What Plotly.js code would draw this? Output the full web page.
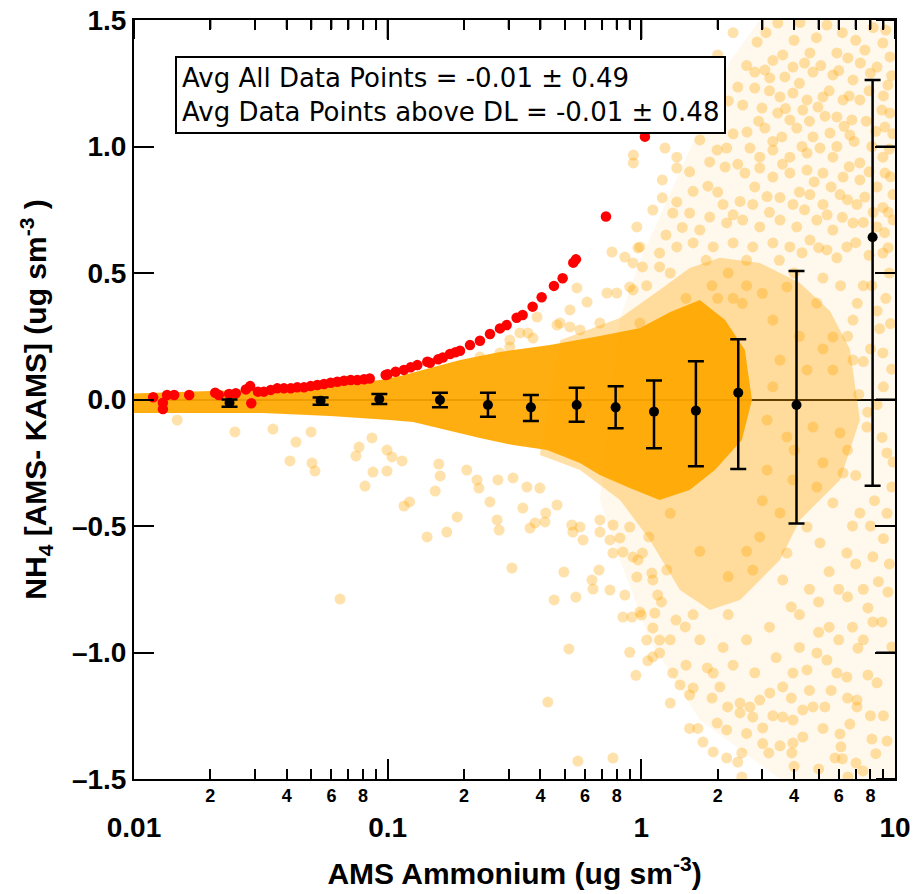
<!DOCTYPE html>
<html>
<head>
<meta charset="utf-8">
<script src="https://cdn.plot.ly/plotly-3.0.1.min.js"></script>
<style>html,body{margin:0;padding:0;background:#fff;}#wrap{position:relative;width:924px;height:894px;}#chart{width:924px;height:894px;}#frame{position:absolute;left:0;top:0;pointer-events:none;}</style>
</head>
<body>
<div id="wrap"><div id="chart"></div></div>
<script>
// ---------- data ----------
// binned averages (black points with error bars)
const binX     = [0.0238, 0.0544, 0.0927, 0.1607, 0.2485, 0.367, 0.556, 0.792, 1.122, 1.641, 2.41, 4.09, 8.16];
const binY     = [-0.013, -0.005, 0.002, -0.002, -0.022, -0.031, -0.022, -0.031, -0.048, -0.044, 0.027, -0.022, 0.641];
const binPlus  = [0.013, 0.013, 0.020, 0.029, 0.049, 0.049, 0.068, 0.083, 0.123, 0.195, 0.211, 0.53, 0.622];
const binMinus = [0.016, 0.016, 0.020, 0.029, 0.046, 0.054, 0.066, 0.083, 0.145, 0.22, 0.302, 0.468, 0.982];

// points below detection limit (red)
const redX = [0.0119,0.0130,0.0130,0.0135,0.0144,0.0165,0.0209,0.0216,0.0237,0.0252,0.0276,0.0287,0.0290,0.0308,0.0325,0.0346,0.0367,0.0390,0.0415,0.0440,0.0468,0.0497,0.0528,0.0561,0.0596,0.0633,0.0673,0.0715,0.0759,0.0807,0.085,0.0982,0.100,0.1075,0.1159,0.1232,0.1309,0.1433,0.1468,0.1583,0.165,0.1761,0.185,0.1928,0.2111,0.2311,0.2531,0.2771,0.2945,0.3224,0.3405,0.3728,0.4046,0.4524,0.4895,0.5391,0.5524,0.7254,1.0332];
const redY = [0.009,-0.013,-0.038,0.018,0.018,0.018,0.027,0.018,0.022,0.025,0.040,0.053,-0.015,0.031,0.031,0.038,0.044,0.044,0.044,0.048,0.048,0.053,0.057,0.061,0.066,0.070,0.074,0.077,0.077,0.080,0.083,0.097,0.100,0.110,0.117,0.127,0.136,0.149,0.145,0.159,0.166,0.180,0.187,0.193,0.215,0.232,0.259,0.281,0.294,0.323,0.334,0.367,0.404,0.449,0.479,0.541,0.554,0.723,1.039];

// envelope of the saturated core of the point cloud
const coreX = [0.009,0.0152,0.0286,0.045,0.071,0.093,0.112,0.147,0.193,0.277,0.436,0.686,0.99,1.30,1.70,2.14,2.56,2.73,2.49,1.95,1.55,1.18,0.90,0.686,0.573,0.425,0.312,0.231,0.171,0.126,0.102,0.0593,0.0322,0.0182,0.009];
const coreY = [0.022,0.030,0.038,0.045,0.061,0.077,0.093,0.125,0.156,0.188,0.215,0.251,0.283,0.346,0.393,0.314,0.196,-0.002,-0.16,-0.279,-0.358,-0.397,-0.35,-0.298,-0.251,-0.2,-0.18,-0.152,-0.121,-0.089,-0.081,-0.065,-0.053,-0.053,-0.053];

// envelope of the medium-density part of the cloud
const midX = [0.48,0.824,1.18,1.55,2.04,2.93,4.22,5.54,6.64,7.27,6.07,4.22,3.52,2.45,1.86,1.42,1.08,0.824,0.573,0.398];
const midY = [0.235,0.322,0.433,0.52,0.56,0.54,0.46,0.35,0.2,-0.08,-0.318,-0.476,-0.634,-0.792,-0.832,-0.753,-0.555,-0.397,-0.279,-0.219];

// envelope of the sparse outer part of the cloud
const outerX = [0.99,1.55,2.25,2.93,10,10,3.52,1.70,1.08,0.824,0.686,0.824];
const outerY = [0.551,0.986,1.34,1.5,1.5,-1.5,-1.5,-1.267,-0.95,-0.634,-0.397,0.322];

// individual scattered points
const dotsLow = [[0.0148,-0.081],[0.025,-0.128],[0.0353,-0.117],[0.0435,-0.168],[0.0499,-0.128],[0.0412,-0.243],[0.0503,-0.251],[0.0517,-0.283],[0.0771,-0.188],[0.075,-0.223],[0.0867,-0.152],[0.0875,-0.287],[0.0814,-0.342],[0.0994,-0.2],[0.0994,-0.283],[0.0649,-0.789],[0.104,-0.227],[0.114,-0.243],[0.116,-0.421],[0.122,-0.405],[0.143,-0.543],[0.171,-0.524],[0.159,-0.255],[0.161,-0.302],[0.154,-0.362],[0.188,-0.464],[0.253,-0.405],[0.270,-0.476],[0.275,-0.516],[0.309,-0.666],[0.341,-0.429],[0.364,-0.508],[0.381,-0.488],[0.417,-0.484],[0.42,-0.449],[0.453,-0.792],[0.495,-0.682],[0.552,-0.781],[0.537,-0.524],[0.589,-0.555],[0.639,-0.713],[0.645,-0.749],[0.681,-0.674],[0.752,-0.753],[0.861,-0.773],[0.846,-0.860],[0.918,-0.860],[0.987,-0.840],[1.13,-0.844],[0.97,-0.634],[1.10,-0.686],[1.16,-0.773],[1.37,-0.872],[1.49,-0.899],[0.229,-0.350],[0.205,-0.279],[0.225,-0.318],[0.272,-0.318],[0.312,-0.310],[0.354,-0.346],[0.398,-0.350],[0.465,-0.417],[0.532,-0.496],[0.573,-0.504],[0.687,-0.476],[0.687,-0.524],[0.773,-0.496],[0.824,-0.547],[0.90,-0.504],[0.752,-0.555],[0.773,-0.607],[0.846,-0.603],[0.927,-0.623],[1.01,-0.607],[1.07,-0.543],[1.11,-0.713],[1.26,-0.674],[0.96,-0.702]];
const dotsBottom = [[0.518,-0.986],[0.428,-1.196],[0.562,-1.429],[0.773,-1.417],[0.90,-0.999],[0.952,-1.09],[1.06,-1.033],[1.11,-1.017],[1.30,-1.2],[1.55,-1.3],[1.67,-1.3],[1.75,-1.354],[1.92,-1.393],[2.17,-1.417],[2.40,-1.433],[2.49,-1.397],[2.49,-1.492],[3.01,-1.36],[3.18,-1.397],[3.52,-1.369],[3.92,-1.397],[3.96,-1.358],[4.33,-1.334],[5.80,-1.417],[6.52,-1.492],[7.02,-1.437],[7.47,-1.468],[8.11,-1.342],[6.07,-1.322],[6.64,-1.283],[6.12,-1.373],[1.99,-1.279],[2.17,-1.306],[2.45,-1.239],[2.75,-1.255],[3.01,-1.298],[3.61,-1.255],[3.96,-1.267],[4.33,-1.227],[4.75,-1.215],[5.29,-1.215],[7.08,-1.188],[7.08,-1.215],[8.49,-1.12],[7.82,-1.089],[9.72,-0.978],[8.88,-0.879],[8.18,-0.879],[7.14,-0.983],[6.46,-1.097],[5.90,-1.081],[5.39,-1.030],[4.92,-1.002],[4.50,-1.069],[3.96,-1.081],[3.61,-1.136],[3.21,-1.160],[2.93,-1.188],[2.68,-1.215],[2.45,-1.2],[2.19,-1.215],[2.04,-1.136],[1.92,-1.081],[1.82,-1.061],[1.60,-1.140],[1.55,-1.168],[1.42,-1.128],[1.33,-1.081],[1.18,-1.002],[1.11,-0.903],[1.00,-0.852],[1.05,-0.951],[1.18,-0.951],[9.82,-0.247],[9.72,-0.346],[8.18,-0.622],[9.38,-0.761],[7.82,-0.824],[8.3,-0.4],[9.0,-0.55],[7.0,-0.65],[6.0,-0.75],[5.0,-0.8],[4.2,-0.85],[5.5,-0.9],[6.8,-0.9],[9.5,-0.65],[7.0,-0.3],[8.9,-0.15],[8.0,-0.5],[9.3,-0.45],[6.8,-0.5],[5.5,-0.68],[6.5,-0.78],[7.5,-0.75],[8.6,-0.72],[4.6,-0.75],[3.9,-0.82],[3.2,-0.9],[2.6,-0.95],[2.1,-0.98],[1.7,-0.95],[2.3,-1.05],[2.8,-1.08],[3.4,-1.02],[4.2,-0.98],[5.0,-0.92],[6.0,-0.95],[7.5,-0.95],[4.6,-1.15],[5.6,-1.15],[6.5,-1.18],[3.9,-1.18],[3.3,-1.25],[2.6,-1.32],[1.9,-1.18],[1.5,-1.05],[1.3,-0.95],[5.2,-1.30],[4.0,-1.45],[5.0,-1.46],[6.2,-1.42],[8.4,-1.40],[9.3,-1.35],[9.0,-1.25],[8.0,-1.25],[1.2,-0.8],[1.6,-0.85],[2.2,-0.85]];
const dotsHigh = [[2.00,1.362],[2.86,1.413],[3.45,1.488],[4.22,1.49],[5.39,1.480],[3.61,1.362],[3.96,1.314],[4.62,1.370],[5.90,1.370],[6.52,1.350],[7.61,1.381],[8.96,1.409],[9.55,1.354],[2.80,1.294],[3.07,1.302],[3.21,1.271],[3.68,1.275],[4.75,1.294],[5.69,1.283],[6.83,1.263],[8.49,1.314],[9.38,1.243],[2.40,1.235],[2.80,1.231],[3.52,1.196],[3.96,1.211],[4.50,1.184],[5.20,1.196],[6.24,1.184],[7.27,1.184],[8.88,1.144],[2.51,1.164],[2.99,1.152],[3.45,1.132],[3.85,1.105],[4.33,1.144],[4.97,1.156],[5.90,1.117],[6.76,1.105],[9.55,1.132],[2.61,1.057],[3.07,1.073],[3.58,1.038],[4.10,1.073],[4.75,1.038],[5.54,1.053],[6.64,1.045],[9.13,1.077],[1.70,1.026],[1.99,0.986],[2.17,0.994],[2.68,0.994],[2.93,0.958],[3.30,0.986],[3.85,0.958],[4.50,0.974],[5.06,0.994],[5.69,0.958],[7.27,0.935],[8.96,0.958],[1.24,0.994],[1.38,0.915],[1.86,0.939],[2.14,0.919],[2.56,0.895],[2.93,0.915],[3.30,0.879],[3.85,0.895],[4.50,0.907],[5.20,0.895],[6.24,0.879],[7.27,0.868],[9.13,0.895],[1.21,0.868],[1.21,0.797],[1.38,0.781],[1.60,0.823],[1.83,0.843],[2.10,0.771],[2.45,0.783],[2.75,0.771],[3.13,0.802],[3.52,0.798],[3.96,0.771],[4.62,0.810],[5.20,0.771],[6.07,0.810],[7.08,0.771],[8.96,0.759],[9.82,0.810],[0.96,0.682],[1.11,0.749],[1.33,0.737],[1.55,0.737],[1.86,0.721],[2.17,0.698],[2.51,0.709],[2.93,0.682],[3.52,0.709],[4.10,0.682],[4.92,0.709],[5.69,0.670],[6.83,0.698],[8.49,0.682],[9.82,0.709],[0.987,0.603],[1.18,0.579],[1.38,0.603],[1.60,0.619],[1.92,0.603],[2.30,0.619],[2.75,0.603],[3.30,0.619],[3.85,0.603],[4.62,0.630],[5.39,0.591],[6.46,0.603],[8.96,0.579],[0.766,0.583],[0.861,0.563],[0.927,0.540],[1.01,0.524],[1.18,0.524],[0.732,0.421],[0.80,0.421],[0.90,0.445],[0.611,0.385],[0.523,0.354],[0.478,0.302],[0.388,0.326],[0.332,0.263],[0.303,0.235],[0.357,0.263],[0.557,0.441],[0.927,0.433],[0.465,0.294],[0.523,0.287],[0.573,0.275],[0.686,0.302],[0.987,0.302],[0.374,0.243],[0.303,0.208],[0.277,0.184],[0.231,0.168],[0.97,0.599],[0.93,0.966],[0.93,0.935],[1.21,1.184],[1.11,1.077],[1.38,0.958],[2.2,0.5],[2.6,0.45],[1.9,0.45],[2.3,0.4],[2.3,1.45],[3.1,1.45],[4.0,1.42],[4.9,1.43],[6.2,1.45],[7.0,1.42],[8.2,1.47],[9.2,1.46],[2.6,1.32],[3.3,1.34],[4.4,1.33],[5.1,1.32],[6.0,1.30],[7.3,1.33],[8.0,1.29],[9.7,1.28],[2.2,1.18],[3.2,1.22],[4.2,1.25],[5.5,1.22],[6.6,1.20],[7.9,1.22],[9.0,1.20],[2.9,1.10],[3.7,1.15],[4.6,1.10],[5.3,1.12],[6.3,1.08],[7.7,1.10],[8.4,1.06],[9.8,1.05],[2.3,1.05],[3.3,1.02],[4.3,1.00],[5.9,1.00],[6.9,1.02],[8.1,1.00],[9.5,0.99],[1.55,0.90],[2.4,0.93],[3.6,0.93],[4.8,0.86],[6.6,0.92],[7.9,0.90],[8.5,0.84],[9.6,0.88],[1.45,0.68],[2.0,0.82],[2.8,0.84],[4.2,0.82],[5.6,0.84],[6.5,0.79],[7.6,0.80],[8.2,0.74],[9.4,0.74],[1.25,0.65],[1.7,0.67],[2.3,0.73],[3.2,0.74],[4.4,0.75],[5.4,0.73],[6.2,0.72],[7.5,0.70],[9.1,0.66],[1.05,0.45],[1.3,0.5],[1.8,0.55],[2.6,0.55],[3.5,0.55],[4.3,0.58],[5.0,0.60],[5.9,0.56],[7.0,0.62],[7.9,0.57],[9.4,0.60]];
const dotsMid = [[3.30,0.314],[3.75,0.445],[4.92,0.381],[5.69,0.247],[6.83,0.314],[3.52,0.156],[4.50,0.117],[5.69,0.117],[6.83,0.156],[8.96,0.184],[3.13,-0.081],[3.75,-0.148],[4.75,-0.109],[6.07,-0.132],[7.75,-0.109],[9.29,-0.211],[3.13,-0.279],[3.96,-0.318],[4.92,-0.346],[6.24,-0.291],[3.52,-0.449],[4.50,-0.504],[5.69,-0.409],[7.27,-0.449],[2.93,-0.543],[3.75,-0.607],[5.06,-0.567],[6.46,-0.607],[2.75,-0.674],[3.61,-0.713],[7.5,0.45],[8.5,0.35],[9.5,0.5],[8.0,0.2],[9.0,0.05],[7.8,-0.05],[9.6,0.3],[4.0,0.50],[5.2,0.48],[6.1,0.45],[7.1,0.38],[8.1,0.45],[9.2,0.40],[6.5,0.25],[7.5,0.15],[8.7,0.28],[9.7,0.12],[7.2,0.02],[8.5,-0.02],[1.5,0.4],[2.0,0.4],[2.5,0.38],[3.0,0.42],[1.3,-0.45],[1.7,-0.6],[2.2,-0.7],[2.6,-0.6],[3.0,-0.4],[3.3,0.05],[4.2,0.25],[5.2,0.2],[4.0,-0.2],[5.2,-0.25],[6.5,-0.2]];

// texts
const xTickVals = [0.01, 0.1, 1, 10];
const xTickText = ['0.01', '0.1', '1', '10'];
const xMinorVals = [0.02,0.03,0.04,0.05,0.06,0.07,0.08,0.09,0.2,0.3,0.4,0.5,0.6,0.7,0.8,0.9,2,3,4,5,6,7,8,9];
const xMinorLabVals = [0.02,0.04,0.06,0.08,0.2,0.4,0.6,0.8,2,4,6,8];
const xMinorLabText = ['2','4','6','8','2','4','6','8','2','4','6','8'];
const yTickVals = [-1.5,-1,-0.5,0,0.5,1,1.5];
const yTickText = ['\u20131.5','\u20131.0','\u20130.5','0.0','0.5','1.0','1.5'];
const statLines = ['Avg All Data Points = -0.01 \u00b1 0.49', 'Avg Data Points above DL = -0.01 \u00b1 0.48'];

// ---------- layout geometry ----------
const W = 924, H = 894;
const M = {l:134, r:29, t:20, b:115};
const X_RANGE = [-2, 1], Y_RANGE = [-1.5, 1.5];

// ---------- traces ----------
const DOT = 'rgba(255,165,0,0.33)';
const allDots = dotsLow.concat(dotsBottom, dotsHigh, dotsMid);

const traces = [
  {type:'scatter', mode:'lines', x:outerX, y:outerY, fill:'toself', fillcolor:'rgba(255,165,0,0.07)', line:{width:0}, hoverinfo:'skip', showlegend:false},
  {type:'scatter', mode:'lines', x:midX, y:midY, fill:'toself', fillcolor:'rgba(255,165,0,0.34)', line:{width:0}, hoverinfo:'skip', showlegend:false},
  {type:'scatter', mode:'markers', x:allDots.map(d=>d[0]), y:allDots.map(d=>d[1]), marker:{size:11, color:DOT, line:{width:0}}, hoverinfo:'skip', showlegend:false},
  {type:'scatter', mode:'lines', x:coreX, y:coreY, fill:'toself', fillcolor:'rgba(255,168,0,0.93)', line:{width:0}, hoverinfo:'skip', showlegend:false},
  {type:'scatter', mode:'markers', x:redX, y:redY, marker:{size:10.5, color:'rgb(255,0,0)'}, showlegend:false},
  {type:'scatter', mode:'markers', x:binX, y:binY,
   marker:{size:10, color:'black'},
   error_y:{type:'data', symmetric:false, array:binPlus, arrayminus:binMinus, color:'black', thickness:2.5, width:8},
   showlegend:false},
  {type:'scatter', mode:'markers', x:[0.01,10], y:[0,0], xaxis:'x2', marker:{opacity:0}, hoverinfo:'skip', showlegend:false}
];

const boldFont = (s) => ({family:'Liberation Sans, Arial, sans-serif', size:s, color:'black', weight:'bold'});

const layout = {
  width:W, height:H, margin:M,
  paper_bgcolor:'white', plot_bgcolor:'white',
  showlegend:false,
  xaxis:{
    type:'log', range:X_RANGE,
    tickmode:'array', tickvals:xTickVals, ticktext:xTickText,
    ticks:'inside', ticklen:20, tickwidth:2, tickcolor:'black',
    minor:{tickmode:'array', tickvals:xMinorVals, ticks:'inside', ticklen:10, tickwidth:2, tickcolor:'black', showgrid:false},
    showline:true, linewidth:2, linecolor:'black', mirror:'ticks',
    showgrid:false, zeroline:false,
    tickfont:boldFont(28), ticklabelstandoff:22,
    title:{text:'AMS Ammonium (ug sm<sup>-3</sup>)', font:boldFont(30), standoff:21}
  },
  xaxis2:{
    type:'log', range:X_RANGE, overlaying:'x', anchor:'y', side:'bottom',
    tickmode:'array', tickvals:xMinorLabVals, ticktext:xMinorLabText,
    ticks:'', showline:false, showgrid:false, zeroline:false,
    tickfont:boldFont(18), ticklabelstandoff:4
  },
  yaxis:{
    range:Y_RANGE,
    tickmode:'array', tickvals:yTickVals, ticktext:yTickText,
    ticks:'inside', ticklen:20, tickwidth:2, tickcolor:'black',
    showline:true, linewidth:2, linecolor:'black', mirror:'ticks',
    showgrid:false,
    zeroline:true, zerolinecolor:'black', zerolinewidth:2,
    tickfont:boldFont(28),
    title:{text:'NH<sub>4</sub> [AMS- KAMS] (ug sm<sup>-3</sup> )', font:boldFont(30), standoff:16}
  },
  annotations:[{
    xref:'paper', yref:'paper', x:0.054, y:0.953, xanchor:'left', yanchor:'top',
    text:statLines.join('<br>'), align:'left', showarrow:false,
    font:{family:'DejaVu Sans, sans-serif', size:26, color:'black'},
    bordercolor:'black', borderwidth:2, borderpad:5, bgcolor:'white'
  }]
};

Plotly.newPlot('chart', traces, layout, {displayModeBar:false});

// ---------- frame overlay: top and right edges with inward ticks ----------
(function drawFrame(){
  const pw = W - M.l - M.r, ph = H - M.t - M.b;
  const px = v => M.l + (Math.log10(v) - X_RANGE[0]) / (X_RANGE[1] - X_RANGE[0]) * pw;
  const py = v => M.t + (Y_RANGE[1] - v) / (Y_RANGE[1] - Y_RANGE[0]) * ph;
  const NS = 'http://www.w3.org/2000/svg';
  const svg = document.createElementNS(NS, 'svg');
  svg.setAttribute('id', 'frame'); svg.setAttribute('width', W); svg.setAttribute('height', H);
  const line = (x1, y1, x2, y2) => {
    const l = document.createElementNS(NS, 'line');
    l.setAttribute('x1', x1); l.setAttribute('y1', y1); l.setAttribute('x2', x2); l.setAttribute('y2', y2);
    l.setAttribute('stroke', 'black'); l.setAttribute('stroke-width', 2);
    svg.appendChild(l);
  };
  const top = M.t - 1, right = M.l + pw + 1;
  line(M.l - 2, top, right + 1, top);
  line(right, top - 1, right, M.t + ph + 2);
  xTickVals.forEach(v => line(px(v), top, px(v), top + 20));
  xMinorVals.forEach(v => line(px(v), top, px(v), top + 10));
  yTickVals.forEach(v => line(right, py(v), right - 20, py(v)));
  document.getElementById('wrap').appendChild(svg);
})();
</script>
</body>
</html>
